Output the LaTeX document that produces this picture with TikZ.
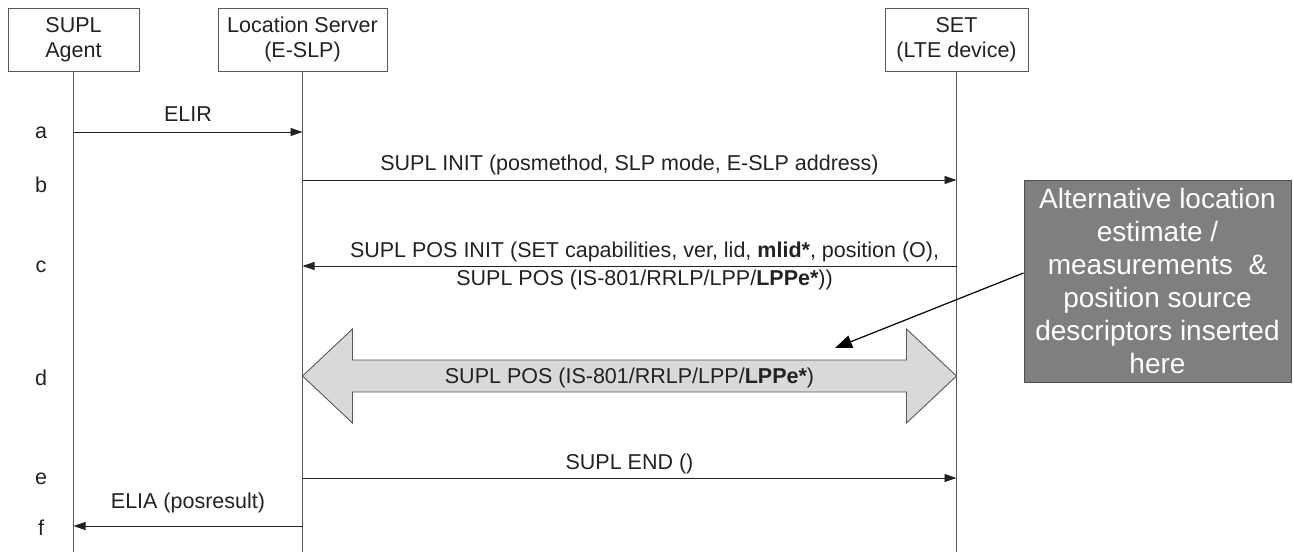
\documentclass[tikz,border=0pt]{standalone}
\usepackage{fontspec}
\setmainfont{Liberation Sans}
\usepackage{xcolor}
\definecolor{ink}{HTML}{222222}
\definecolor{rule}{HTML}{595959}
\definecolor{band}{HTML}{D9D9D9}
\definecolor{slate}{HTML}{7F7F7F}
\usetikzlibrary{arrows.meta,positioning,calc}

\begin{document}
\begin{tikzpicture}[
    x=1pt, y=-1pt,
    every node/.style={font=\fontsize{21.5}{25}\selectfont, align=center, text=ink},
    head_box/.style={draw=rule, line width=0.9pt, minimum height=63pt, inner sep=0pt},
    life_line/.style={draw=rule, line width=0.9pt},
    msg_flow/.style={-{Triangle[length=12pt,width=8pt]}, line width=0.9pt, ink},
    msg_label/.style={anchor=base, inner sep=0pt},
    step_label/.style={inner sep=0pt},
    pos_band/.style={draw=rule, fill=band, line width=0.9pt},
    note_box/.style={draw=ink!80, fill=slate, line width=1pt, text=white, minimum width=267pt, minimum height=202pt, font=\fontsize{28}{33}\selectfont},
    note_flow/.style={-{Triangle[length=17pt,width=13pt]}, line width=1.2pt, black}
]

  \useasboundingbox (0,0) rectangle (1293,552);

  % Lifeline heads
  \node[head_box, minimum width=131pt] (agent) at (73.5,39.5) {SUPL\\Agent};
  \node[head_box, minimum width=169pt] (server) at (302.5,39.5) {Location Server\\(E-SLP)};
  \node[head_box, minimum width=143pt] (set) at (956.5,39.5) {SET\\(LTE device)};

  % Rows of the flow
  \coordinate (bottom) at (0,552);
  \coordinate (row_a) at (0,132);
  \coordinate (row_b) at (0,180);
  \coordinate (row_c) at (0,266);
  \coordinate (row_d) at (0,376);
  \coordinate (row_e) at (0,478);
  \coordinate (row_f) at (0,526);

  % Lifelines
  \draw[life_line] (agent.south) -- (agent.south |- bottom);
  \draw[life_line] (server.south) -- (server.south |- bottom);
  \draw[life_line] (set.south) -- (set.south |- bottom);

  % Step letters
  \node[step_label] (step_a) at (41,133) {a};
  \node[step_label] (step_b) at (41,185) {b};
  \node[step_label] (step_c) at (41,267) {c};
  \node[step_label] (step_d) at (41,378) {d};
  \node[step_label] (step_e) at (41,479) {e};
  \node[step_label] (step_f) at (41,528) {f};

  % Messages
  \draw[msg_flow] (agent |- row_a) -- node[msg_label, yshift=11pt]{ELIR} (server |- row_a);
  \draw[msg_flow] (server |- row_b) -- node[msg_label, yshift=10pt]{SUPL INIT (posmethod, SLP mode, E-SLP address)} (set |- row_b);
  \draw[msg_flow] (set |- row_c) -- node[pos=0.477, inner sep=0pt, font=\fontsize{21.5}{28}\selectfont]{SUPL POS INIT (SET capabilities, ver, lid, \textbf{mlid*}, position (O),\\SUPL POS (IS-801/RRLP/LPP/\textbf{LPPe*}))} (server |- row_c);

  % Positioning session band
  \coordinate (d_left) at (server |- row_d);
  \coordinate (d_right) at (set |- row_d);
  \draw[pos_band] (d_left) -- ++(50,-47) -- ++(0,31) -- ($(d_right)+(-50,-16)$) -- ++(0,-31) -- (d_right)
    -- ++(-50,47) -- ++(0,-31) -- ($(d_left)+(50,16)$) -- ++(0,31) -- cycle;
  \node (band_text) at ($(d_left)!0.5!(d_right)+(0,2)$) {SUPL POS (IS-801/RRLP/LPP/\textbf{LPPe*})};

  \draw[msg_flow] (server |- row_e) -- node[msg_label, yshift=9pt]{SUPL END ()} (set |- row_e);
  \draw[msg_flow] (server |- row_f) -- node[msg_label, yshift=18pt]{ELIA (posresult)} (agent |- row_f);

  % Annotation
  \node[note_box] (note) at (1157.5,281) {Alternative location\\estimate /\\measurements\ \ \&\\position source\\descriptors inserted\\here};
  \coordinate (note_tip) at (835,348);
  \draw[note_flow] ([yshift=8pt]note.west) -- (note_tip);

\end{tikzpicture}
\end{document}
